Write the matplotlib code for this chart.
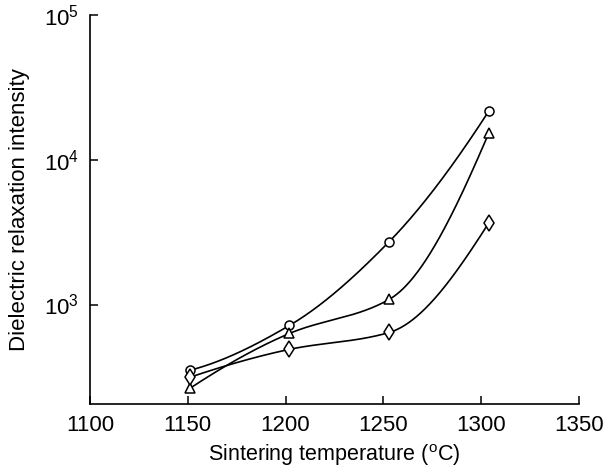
import matplotlib
matplotlib.use('Agg')
import matplotlib.pyplot as plt
import numpy as np

plt.rcParams['font.family'] = 'Liberation Sans'
plt.rcParams['mathtext.fontset'] = 'custom'
plt.rcParams['mathtext.rm'] = 'Liberation Sans'
plt.rcParams['mathtext.it'] = 'Liberation Sans:italic'

# temperatures as plotted (points sit slightly right of the ticks)
temp = [1151, 1202, 1253, 1304]
circle_vals = [351, 717, 2720, 21800]
triangle_vals = [263, 631, 1085, 15400]
diamond_vals = [314, 490, 641, 3680]


def pchip(x, y, xs):
    # monotone cubic (Fritsch-Carlson), just for the smooth hand-drawn look
    x = np.asarray(x, float)
    y = np.asarray(y, float)
    h = np.diff(x)
    d = np.diff(y) / h
    m = np.zeros_like(y)
    for k in range(1, len(x) - 1):
        if d[k - 1] * d[k] > 0:
            w1 = 2 * h[k] + h[k - 1]
            w2 = h[k] + 2 * h[k - 1]
            m[k] = (w1 + w2) / (w1 / d[k - 1] + w2 / d[k])
    m[0] = ((2 * h[0] + h[1]) * d[0] - h[0] * d[1]) / (h[0] + h[1])
    m[-1] = ((2 * h[-1] + h[-2]) * d[-1] - h[-1] * d[-2]) / (h[-1] + h[-2])
    if m[0] * d[0] <= 0:
        m[0] = 0
    if m[-1] * d[-1] <= 0:
        m[-1] = 0
    idx = np.clip(np.searchsorted(x, xs) - 1, 0, len(x) - 2)
    t = (xs - x[idx]) / h[idx]
    h00 = 2 * t**3 - 3 * t**2 + 1
    h10 = t**3 - 2 * t**2 + t
    h01 = -2 * t**3 + 3 * t**2
    h11 = t**3 - t**2
    return (h00 * y[idx] + h10 * h[idx] * m[idx]
            + h01 * y[idx + 1] + h11 * h[idx] * m[idx + 1])


fig = plt.figure(figsize=(6.12, 4.71), dpi=100)
ax = fig.add_axes([0.147, 0.142, 0.799, 0.826])

series = [(circle_vals, 'o', 6.5), (triangle_vals, '^', 6.5), (diamond_vals, 'd', 8.5)]
xs = np.linspace(temp[0], temp[-1], 300)
for vals, mk, ms in series:
    ys = pchip(temp, np.log10(vals), xs)
    ax.plot(xs, 10 ** ys, color='black', lw=1.2, zorder=2)
    ax.plot(temp, vals, linestyle='none', marker=mk, ms=ms, mfc='white',
            mec='black', mew=1.1, zorder=3)

ax.set_yscale('log')
ax.set_xlim(1100, 1350)
ax.set_ylim(205, 1e5)
ax.set_xticks([1100, 1150, 1200, 1250, 1300, 1350])
ax.set_yticks([1e3, 1e4, 1e5])
ax.set_yticklabels(['$10^3$', '$10^4$', '$10^5$'])
ax.yaxis.set_minor_locator(matplotlib.ticker.NullLocator())

for s in ['top', 'right']:
    ax.spines[s].set_visible(False)
for s in ['left', 'bottom']:
    ax.spines[s].set_linewidth(1.2)
ax.tick_params(direction='in', length=6, width=1.1, labelsize=16, pad=8)

ax.set_xlabel('Sintering temperature ($^{\\rm o}$C)', fontsize=15.5, labelpad=4)
ax.set_ylabel('Dielectric relaxation intensity', fontsize=16, labelpad=10)

plt.savefig('out.png', dpi=100)
